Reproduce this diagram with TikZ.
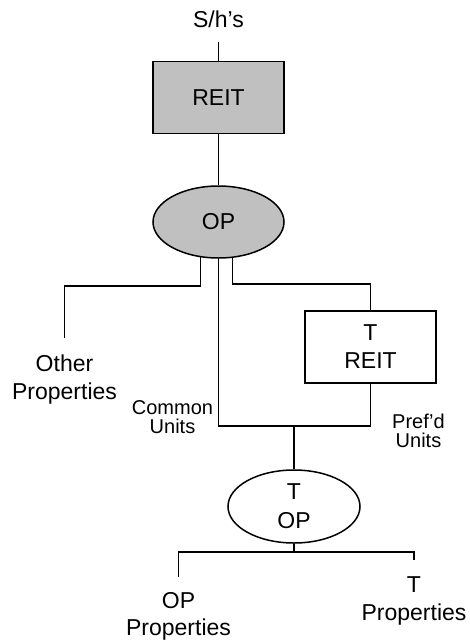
\documentclass[tikz,border=0pt]{standalone}
\usepackage{fontspec}
\setmainfont{Liberation Sans}
\usetikzlibrary{shapes.geometric}
\definecolor{boxgray}{HTML}{C0C0C0}
\begin{document}
\begin{tikzpicture}[x=1pt,y=-1pt, line width=1.5pt,
  bigtxt/.style={font=\fontsize{23}{28}\selectfont, align=center},
  smalltxt/.style={font=\fontsize{20}{19}\selectfont, align=center, inner sep=0pt},
  boxnode/.style={draw, rectangle, minimum width=131pt, minimum height=72pt, inner sep=0pt, bigtxt},
  ovalnode/.style={draw, ellipse, minimum width=131pt, minimum height=72pt, inner sep=0pt, bigtxt},
  lbl/.style={bigtxt, inner xsep=0pt, inner ysep=16pt, anchor=north}]
\useasboundingbox (0,0) rectangle (470,641);

\node[bigtxt, inner xsep=0pt, inner ysep=14pt, anchor=south] (sh) at (218.5,42) {S/h’s};
\node[boxnode, fill=boxgray] (reit) at (218.5,97.5) {REIT};
\node[ovalnode, fill=boxgray] (op) at (218.5,222) {OP};
\node[boxnode] (treit) at (370.5,347) {T\\REIT};
\node[ovalnode, minimum height=73pt, minimum width=132pt, font=\fontsize{23}{29}\selectfont] (top) at (294,506.5) {T\\OP};
\node[lbl] (oth) at (64.5,338) {Other\\Properties};
\node[lbl, inner ysep=15pt, font=\fontsize{23}{27}\selectfont] (oppr) at (178.5,577) {OP\\Properties};
\node[lbl] (tpr) at (414,560) {T\\Properties};
\node[smalltxt] (cu) at (172.5,417.5) {Common\\Units};
\node[smalltxt] (pu) at (418.5,430.5) {Pref’d\\Units};

\coordinate (kL) at (64.5,286);
\coordinate (kR) at (370.5,284);
\coordinate (kM) at (294,426);
\coordinate (kB) at (294,552);

\draw (sh.south) -- (reit.north);
\draw (reit.south) -- (op.north);
\draw (op.243) |- (kL) -- (oth.north);
\draw (op.291) |- (kR) -- (treit.north);
\draw (op.south) |- (kM) -| (treit.south);
\draw (kM) -- (top.north);
\draw (top.south) -- (kB);
\draw (oppr.north) |- (kB) -| (tpr.north);
\end{tikzpicture}
\end{document}
